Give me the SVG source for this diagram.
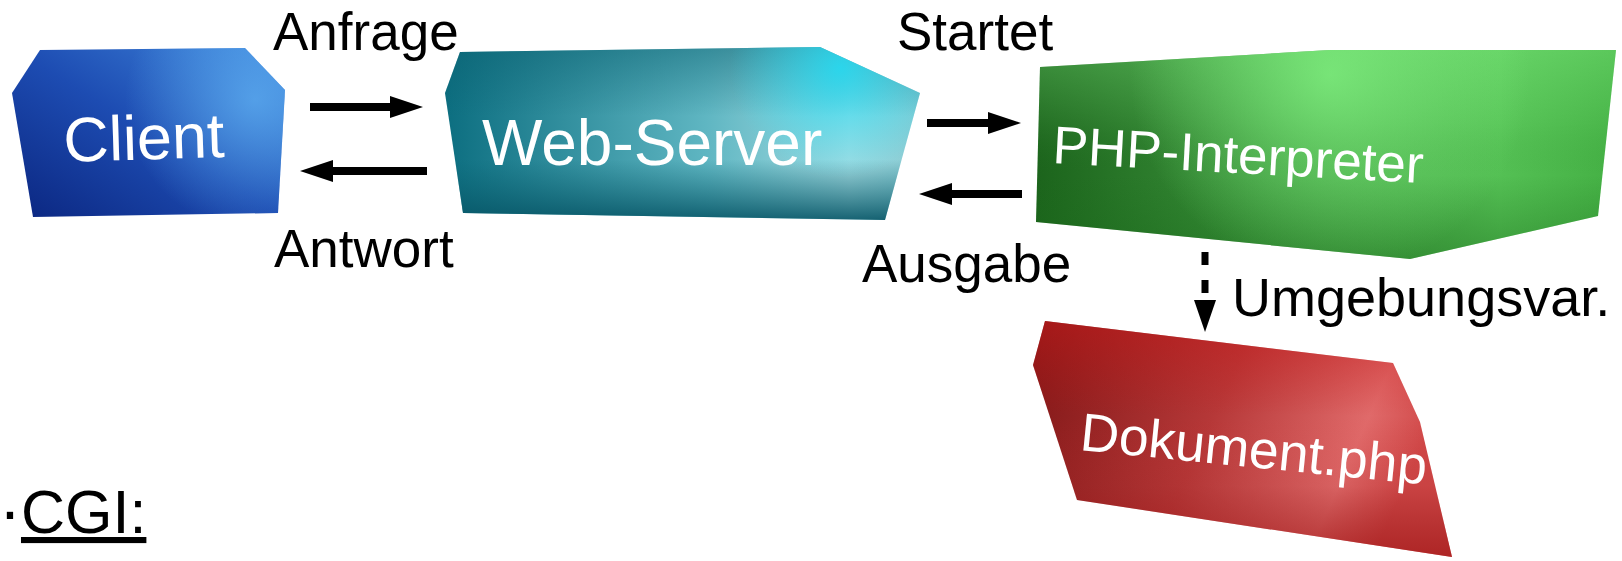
<svg xmlns="http://www.w3.org/2000/svg" width="1622" height="561" viewBox="0 0 1622 561">
<style>
.lbl{font-family:"Liberation Sans",Arial,sans-serif;fill:#000}
.nt{font-family:"Liberation Sans",Arial,sans-serif;fill:#fff}
.con{stroke:#000;stroke-width:8;fill:none}
</style>
<defs>
<marker id="ah" markerUnits="userSpaceOnUse" markerWidth="33" markerHeight="22" viewBox="0 0 33 22" refX="0" refY="11" orient="auto">
<path d="M0,0 L33,11 L0,22 z" fill="#000"/>
</marker>
<marker id="ahd" markerUnits="userSpaceOnUse" markerWidth="32" markerHeight="22" viewBox="0 0 32 22" refX="0" refY="11" orient="auto">
<path d="M0,0 L32,11 L0,22 z" fill="#000"/>
</marker>
<linearGradient id="gBlue" x1="0" y1="1" x2="1" y2="0">
<stop offset="0" stop-color="#0b2680"/>
<stop offset="0.5" stop-color="#1d4cb2"/>
<stop offset="1" stop-color="#3f86dc"/>
</linearGradient>
<radialGradient id="hBlue" cx="255" cy="100" r="130" gradientUnits="userSpaceOnUse">
<stop offset="0" stop-color="#62b4f4" stop-opacity="0.7"/>
<stop offset="1" stop-color="#62b4f4" stop-opacity="0"/>
</radialGradient>
<linearGradient id="gTeal" x1="0" y1="0" x2="1" y2="0">
<stop offset="0" stop-color="#0c6e80"/>
<stop offset="0.55" stop-color="#5fb6c2"/>
<stop offset="0.85" stop-color="#a4dce2"/>
<stop offset="1" stop-color="#86cad2"/>
</linearGradient>
<linearGradient id="vTeal" x1="0" y1="0" x2="0" y2="1">
<stop offset="0" stop-color="#0a6070" stop-opacity="0.5"/>
<stop offset="0.4" stop-color="#0a6070" stop-opacity="0"/>
<stop offset="0.65" stop-color="#0a6070" stop-opacity="0"/>
<stop offset="1" stop-color="#075566" stop-opacity="0.9"/>
</linearGradient>
<radialGradient id="hTeal" cx="840" cy="68" r="110" gradientUnits="userSpaceOnUse">
<stop offset="0" stop-color="#20dcf4" stop-opacity="0.85"/>
<stop offset="1" stop-color="#20dcf4" stop-opacity="0"/>
</radialGradient>
<linearGradient id="gGreen" x1="0" y1="0" x2="1" y2="0">
<stop offset="0" stop-color="#1c641c"/>
<stop offset="0.5" stop-color="#44a044"/>
<stop offset="0.8" stop-color="#54c054"/>
<stop offset="1" stop-color="#44b044"/>
</linearGradient>
<linearGradient id="vGreen" x1="0" y1="0" x2="0" y2="1">
<stop offset="0" stop-color="#90ff90" stop-opacity="0.3"/>
<stop offset="0.35" stop-color="#90ff90" stop-opacity="0.08"/>
<stop offset="0.6" stop-color="#1a6a1a" stop-opacity="0"/>
<stop offset="1" stop-color="#1a6a1a" stop-opacity="0.45"/>
</linearGradient>
<radialGradient id="hGreen" cx="1330" cy="75" r="200" gradientUnits="userSpaceOnUse">
<stop offset="0" stop-color="#86f886" stop-opacity="0.7"/>
<stop offset="1" stop-color="#86f886" stop-opacity="0"/>
</radialGradient>
<linearGradient id="gRed" x1="0" y1="0" x2="1" y2="0.25">
<stop offset="0" stop-color="#7c1414"/>
<stop offset="0.5" stop-color="#b63838"/>
<stop offset="0.85" stop-color="#e06a6a"/>
<stop offset="1" stop-color="#d04848"/>
</linearGradient>
<linearGradient id="vRed" x1="0" y1="0" x2="0" y2="1">
<stop offset="0" stop-color="#c81c1c" stop-opacity="0.55"/>
<stop offset="0.4" stop-color="#c81c1c" stop-opacity="0"/>
<stop offset="0.7" stop-color="#901414" stop-opacity="0.1"/>
<stop offset="1" stop-color="#a01616" stop-opacity="0.7"/>
</linearGradient>
</defs>

<g id="client">
<polygon points="40,50 245,48 285,90 278,213 33,217 12,93" fill="url(#gBlue)"/>
<polygon points="40,50 245,48 285,90 278,213 33,217 12,93" fill="url(#hBlue)"/>
<text class="nt" x="64" y="162" font-size="63" transform="rotate(-1.8 64 162)">Client</text>
</g>

<g id="webserver">
<polygon points="460,52 820,47 920,93 885,220 463,213 445,93" fill="url(#gTeal)"/>
<polygon points="460,52 820,47 920,93 885,220 463,213 445,93" fill="url(#vTeal)"/>
<polygon points="460,52 820,47 920,93 885,220 463,213 445,93" fill="url(#hTeal)"/>
<text class="nt" x="482" y="165" font-size="64">Web-Server</text>
</g>

<g id="php">
<polygon points="1040,67 1330,50 1616,50 1598,216 1410,259 1036,222" fill="url(#gGreen)"/>
<polygon points="1040,67 1330,50 1616,50 1598,216 1410,259 1036,222" fill="url(#vGreen)"/>
<polygon points="1040,67 1330,50 1616,50 1598,216 1410,259 1036,222" fill="url(#hGreen)"/>
<text class="nt" x="1052" y="163" font-size="53" transform="rotate(3.1 1052 163)">PHP-Interpreter</text>
</g>

<g id="dokument">
<polygon points="1045,321 1393,363 1420,422 1452,557 1077,500 1033,365" fill="url(#gRed)"/>
<polygon points="1045,321 1393,363 1420,422 1452,557 1077,500 1033,365" fill="url(#vRed)"/>
<text class="nt" x="1079" y="450" font-size="53.5" transform="rotate(5.7 1079 450)">Dokument.php</text>
</g>

<g id="connectors">
<line class="con" x1="310" y1="107" x2="390" y2="107" marker-end="url(#ah)"/>
<line class="con" x1="427" y1="171" x2="333" y2="171" marker-end="url(#ah)"/>
<line class="con" x1="927" y1="123" x2="988" y2="123" marker-end="url(#ah)"/>
<line class="con" x1="1022" y1="194" x2="952" y2="194" marker-end="url(#ah)"/>
<line x1="1205" y1="252" x2="1205" y2="300" stroke="#000" stroke-width="7" stroke-dasharray="13,15" marker-end="url(#ahd)"/>
</g>

<g id="labels">
<text class="lbl" x="-1" y="534" font-size="66">·<tspan y="533" font-size="61" text-decoration="underline">CGI:</tspan></text>
<text class="lbl" x="273" y="50" font-size="53">Anfrage</text>
<text class="lbl" x="274" y="267" font-size="53">Antwort</text>
<text class="lbl" x="897" y="50" font-size="53">Startet</text>
<text class="lbl" x="862" y="282" font-size="53">Ausgabe</text>
<text class="lbl" x="1232" y="316" font-size="54">Umgebungsvar.</text>
</g>
</svg>
